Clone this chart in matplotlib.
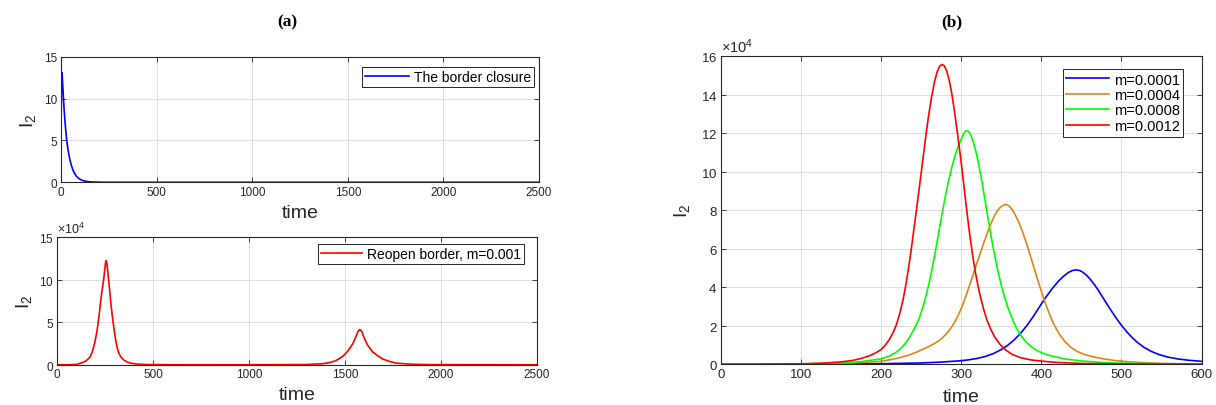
import numpy as np
import matplotlib
matplotlib.use('Agg')
import matplotlib.pyplot as plt
from matplotlib.ticker import ScalarFormatter, MultipleLocator

plt.rcParams['font.family'] = ['Liberation Sans', 'DejaVu Sans']
plt.rcParams['mathtext.fontset'] = 'custom'
plt.rcParams['mathtext.rm'] = 'Liberation Sans'
plt.rcParams['mathtext.it'] = 'Liberation Sans:italic'
plt.rcParams['mathtext.bf'] = 'Liberation Sans:bold'

# ---- (a) top: border closure ----
t_close = [0, 1, 2, 3, 4, 5, 7, 8, 12, 16, 20, 25, 30, 36, 44, 52, 61, 70, 82, 95,
           108, 125, 143, 170, 220, 300, 1000, 2500]
i2_close = [6.1, 8.4, 10.4, 11.9, 12.8, 13.1, 12.6, 12.0, 10.4, 8.8, 7.5, 6.2, 5.0, 4.0,
            3.0, 2.2, 1.55, 1.1, 0.68, 0.42, 0.26, 0.14, 0.07, 0.03, 0.005, 0, 0, 0]

# ---- (a) bottom: reopen border, m=0.001 (units of 1e4) ----
t_reopen = [0, 50, 100, 134, 150, 169, 180, 190, 200, 207, 213.5, 220, 226, 232, 237,
            241.7, 246, 250, 252, 254, 256, 258, 261, 264, 267.7, 272, 276, 281, 286,
            292, 298, 305, 313, 322, 335, 350, 365, 380, 400, 430, 480, 600, 1000, 1300,
            1387, 1420, 1448, 1470, 1491, 1515, 1540, 1552, 1562, 1568, 1573, 1577,
            1581, 1586, 1591, 1597.7, 1607, 1618.6, 1645, 1674, 1700, 1726, 1765, 1805,
            1850, 1950, 2500]
i2_reopen = [0, 0.002, 0.03, 0.27, 0.45, 0.86, 1.35, 2.1, 3.1, 4.0, 5.0, 6.2, 7.4, 8.5,
             9.3, 10.0, 10.9, 11.7, 12.05, 12.25, 12.2, 11.95, 11.45, 10.8, 10.0, 9.0,
             8.0, 6.9, 5.9, 4.85, 3.85, 2.85, 1.95, 1.3, 0.8, 0.5, 0.32, 0.2, 0.11, 0.05,
             0.015, 0.003, 0, 0.02, 0.12, 0.25, 0.43, 0.7, 1.02, 1.6, 2.42, 3.0, 3.55,
             3.88, 4.05, 4.12, 4.1, 3.98, 3.76, 3.35, 2.85, 2.3, 1.5, 1.0, 0.65, 0.43,
             0.2, 0.12, 0.05, 0.01, 0]

# ---- (b): different m (units of 1e4) ----
t_m1 = [0, 100, 200, 250, 275, 300, 310, 320, 330, 340, 350, 358, 366, 374, 382, 390,
        398, 406, 414, 421, 428, 434, 439, 443, 447, 451, 456, 461, 466, 471, 476, 481,
        486, 491, 496, 501, 507, 513, 520, 528, 537, 547, 558, 571, 585, 600]
i2_m1 = [0, 0.004, 0.025, 0.065, 0.11, 0.18, 0.23, 0.3, 0.4, 0.55, 0.76, 0.98, 1.26,
         1.6, 2.01, 2.48, 3.0, 3.5, 3.95, 4.3, 4.58, 4.77, 4.87, 4.9, 4.88, 4.8, 4.64,
         4.42, 4.15, 3.85, 3.52, 3.19, 2.86, 2.55, 2.25, 1.97, 1.67, 1.4, 1.13, 0.88,
         0.67, 0.5, 0.37, 0.27, 0.2, 0.15]

t_m4 = [0, 50, 100, 150, 175, 200, 215, 225, 235, 245, 250, 255, 260, 265, 270, 274,
        277, 280, 284, 288, 292, 296, 300, 304, 308, 313, 318, 323, 328, 333, 337, 341,
        345, 349, 353, 356, 359, 362, 365, 368, 371, 374, 377, 380, 383, 386, 389, 392,
        395, 398, 401, 404, 407, 411, 415, 419, 424, 430, 437, 445, 454, 465, 477, 492,
        507, 527, 552, 580, 600]
i2_m4 = [0, 0.002, 0.01, 0.05, 0.09, 0.15, 0.26, 0.36, 0.48, 0.64, 0.74, 0.83, 0.93,
         1.04, 1.16, 1.28, 1.39, 1.52, 1.71, 1.93, 2.2, 2.52, 2.9, 3.33, 3.8, 4.42, 5.05,
         5.68, 6.29, 6.87, 7.3, 7.67, 7.96, 8.16, 8.27, 8.3, 8.24, 8.12, 7.94, 7.71,
         7.45, 7.15, 6.82, 6.46, 6.08, 5.68, 5.27, 4.86, 4.45, 4.05, 3.66, 3.29, 2.94,
         2.51, 2.13, 1.81, 1.47, 1.15, 0.87, 0.66, 0.5, 0.38, 0.28, 0.19, 0.13, 0.08,
         0.04, 0.02, 0.012]

t_m8 = [0, 50, 100, 150, 175, 200, 210, 218, 224, 230, 235, 240, 244, 248, 252, 256,
        260, 264, 268, 272, 276, 280, 284, 288, 292, 296, 300, 303, 306, 309, 312, 315,
        318, 321, 324, 327, 330, 333, 336, 339, 342, 346, 350, 354, 358, 363, 368, 374,
        380, 387, 395, 405, 415, 430, 450, 475, 500, 550, 600]
i2_m8 = [0, 0.003, 0.015, 0.06, 0.13, 0.28, 0.42, 0.6, 0.8, 1.07, 1.37, 1.73, 2.05,
         2.45, 2.95, 3.55, 4.25, 5.05, 5.93, 6.87, 7.8, 8.7, 9.5, 10.2, 10.8, 11.3, 11.7,
         11.98, 12.14, 12.1, 11.9, 11.55, 11.1, 10.55, 9.9, 9.2, 8.45, 7.7, 6.95, 6.25,
         5.6, 4.8, 4.1, 3.5, 2.98, 2.42, 1.95, 1.52, 1.2, 0.92, 0.7, 0.52, 0.4, 0.27,
         0.17, 0.09, 0.05, 0.02, 0.01]

t_m12 = [0, 50, 100, 125, 150, 165, 175, 185, 192, 200, 205, 210, 215, 219, 223, 227,
         230, 234, 237, 240, 244, 247, 250, 253, 256, 259, 263, 267, 270, 273, 276, 279,
         282, 285, 288, 291, 294, 297, 300, 303, 306, 309, 312, 315, 318, 321, 324, 328,
         332, 337, 342, 349, 356, 364, 374, 386, 400, 420, 450, 500, 550, 600]
i2_m12 = [0, 0.005, 0.02, 0.05, 0.12, 0.2, 0.3, 0.43, 0.56, 0.76, 0.98, 1.27, 1.65, 2.05,
          2.6, 3.28, 3.93, 4.93, 5.8, 6.73, 8.0, 8.97, 9.95, 10.95, 11.93, 12.85, 13.9,
          14.75, 15.2, 15.48, 15.58, 15.5, 15.22, 14.75, 14.1, 13.3, 12.4, 11.45, 10.45,
          9.4, 8.3, 7.25, 6.3, 5.45, 4.7, 4.05, 3.5, 2.85, 2.3, 1.8, 1.4, 1.0, 0.72, 0.5,
          0.34, 0.23, 0.16, 0.09, 0.04, 0.015, 0.006, 0.003]

m_labels = ['m=0.0001', 'm=0.0004', 'm=0.0008', 'm=0.0012']
m_colors = ['#0000FF', '#DE851A', '#00FF00', '#FF0000']

dark = '#262626'
grid_c = '#DFDFDF'


def style_axes(ax, tick_fs=8.5):
    ax.grid(True, color=grid_c, linewidth=0.7)
    ax.set_axisbelow(True)
    ax.tick_params(direction='in', top=True, right=True, length=3.5, width=0.6,
                   colors=dark, labelsize=tick_fs, pad=2.5)
    for s in ax.spines.values():
        s.set_color(dark)
        s.set_linewidth(0.8)


def sci_axis(ax, fs):
    fmt = ScalarFormatter(useMathText=True)
    fmt.set_powerlimits((4, 4))
    ax.yaxis.set_major_formatter(fmt)
    ax.yaxis.get_offset_text().set_fontsize(fs)
    ax.yaxis.get_offset_text().set_color(dark)


fig = plt.figure(figsize=(12.16, 4.06), dpi=100)

# top-left
ax1 = fig.add_axes([61 / 1216, 1 - 183.3 / 406, 478 / 1216, 125.6 / 406])
ax1.plot(t_close, i2_close, color='#0000FF', lw=1.2, label='The border closure')
ax1.set_xlim(0, 2500)
ax1.set_ylim(0, 15)
ax1.xaxis.set_major_locator(MultipleLocator(500))
ax1.yaxis.set_major_locator(MultipleLocator(5))
style_axes(ax1)
ax1.set_xlabel('time', fontsize=14, color=dark)
ax1.set_ylabel(r'$\mathregular{I_2}$', fontsize=14, color=dark)
ax1.xaxis.set_label_coords(0.5, -0.17)
ax1.yaxis.set_label_coords(-0.048, 0.5)
ax1.legend(loc='upper right', bbox_to_anchor=(0.990, 0.916), borderaxespad=0,
           fontsize=10, fancybox=False, edgecolor=dark, framealpha=1,
           handlelength=3.2, handletextpad=0.35, borderpad=0.2)\
    .get_frame().set_linewidth(0.7)

# bottom-left
ax2 = fig.add_axes([57.3 / 1216, 1 - 365.7 / 406, 479.3 / 1216, 127.4 / 406])
ax2.plot(t_reopen, np.array(i2_reopen) * 1e4, color='#FF0000', lw=1.2,
         label='Reopen border, m=0.001')
ax2.set_xlim(0, 2500)
ax2.set_ylim(0, 15e4)
ax2.xaxis.set_major_locator(MultipleLocator(500))
ax2.yaxis.set_major_locator(MultipleLocator(5e4))
style_axes(ax2)
sci_axis(ax2, 9)
ax2.set_xlabel('time', fontsize=14, color=dark)
ax2.set_ylabel(r'$\mathregular{I_2}$', fontsize=14, color=dark)
ax2.xaxis.set_label_coords(0.5, -0.165)
ax2.yaxis.set_label_coords(-0.049, 0.5)
ax2.legend(loc='upper right', bbox_to_anchor=(0.974, 0.947), borderaxespad=0,
           fontsize=10, fancybox=False, edgecolor=dark, framealpha=1,
           handlelength=3.0, handletextpad=0.35, borderpad=0.2)\
    .get_frame().set_linewidth(0.7)

# right
ax3 = fig.add_axes([721 / 1216, 1 - 365.2 / 406, 480.5 / 1216, 307.9 / 406])
series = [(t_m1, i2_m1), (t_m4, i2_m4), (t_m8, i2_m8), (t_m12, i2_m12)]
for (tt, vv), lab, col in zip(series, m_labels, m_colors):
    ax3.plot(tt, np.array(vv) * 1e4, color=col, lw=1.2, label=lab)
ax3.set_xlim(0, 600)
ax3.set_ylim(0, 16e4)
ax3.xaxis.set_major_locator(MultipleLocator(100))
ax3.yaxis.set_major_locator(MultipleLocator(2e4))
style_axes(ax3, tick_fs=9.5)
sci_axis(ax3, 10.5)
ax3.set_xlabel('time', fontsize=14, color=dark)
ax3.set_ylabel(r'$\mathregular{I_2}$', fontsize=14, color=dark)
ax3.xaxis.set_label_coords(0.5, -0.078)
ax3.yaxis.set_label_coords(-0.061, 0.5)
ax3.legend(loc='upper right', bbox_to_anchor=(0.962, 0.959), borderaxespad=0,
           fontsize=10.5, fancybox=False, edgecolor=dark, framealpha=1,
           handlelength=2.95, handletextpad=0.3, borderpad=0.25, labelspacing=0.1)\
    .get_frame().set_linewidth(0.7)

fig.text(287 / 1216, 1 - 22 / 406, '(a)', ha='center', va='center',
         fontfamily='Liberation Serif', fontweight='bold', fontsize=12.5)
fig.text(952 / 1216, 1 - 22 / 406, '(b)', ha='center', va='center',
         fontfamily='Liberation Serif', fontweight='bold', fontsize=12.5)

fig.savefig('out.png', dpi=100)
